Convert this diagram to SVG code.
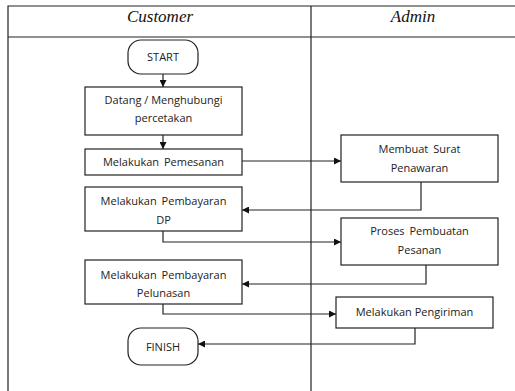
<svg xmlns="http://www.w3.org/2000/svg" width="515" height="391" viewBox="0 0 515 391">
<style>
.box{fill:#fff;stroke:#222;stroke-width:1.2}
.t{font-family:"Open Sans","Noto Sans",sans-serif;font-size:11px;fill:#222;text-anchor:middle}
.h{font-family:"Liberation Serif",serif;font-style:italic;font-size:17px;fill:#111;text-anchor:middle}
.ln{fill:none;stroke:#222;stroke-width:1.2}
.frame{fill:none;stroke:#222;stroke-width:1.2}
</style>
<defs>
<marker id="ar" viewBox="0 0 10 10" refX="10" refY="5" markerWidth="7" markerHeight="7" markerUnits="userSpaceOnUse" orient="auto">
<path d="M0,0 L10,5 L0,10 z" fill="#111"/>
</marker>
</defs>
<g id="lanes">
<path class="frame" d="M8,391 V6 H515 M8,37 H515 M311,6 V391"/>
<text class="h" x="160" y="22">Customer</text>
<text class="h" x="413" y="22">Admin</text>
</g>
<g id="connectors">
<path class="ln" d="M163,74 V87" marker-end="url(#ar)"/>
<path class="ln" d="M163,135 V149" marker-end="url(#ar)"/>
<path class="ln" d="M242,161 H341" marker-end="url(#ar)"/>
<path class="ln" d="M421,182 V210 H242" marker-end="url(#ar)"/>
<path class="ln" d="M163,231 V242 H341" marker-end="url(#ar)"/>
<path class="ln" d="M426,265 V284 H242" marker-end="url(#ar)"/>
<path class="ln" d="M163,304 V314 H336" marker-end="url(#ar)"/>
<path class="ln" d="M415,328 V344 H198" marker-end="url(#ar)"/>
</g>
<g id="start">
<rect class="box" x="128" y="40" width="70" height="34" rx="13"/>
<text class="t" x="163" y="61">START</text>
</g>
<g id="datang">
<rect class="box" x="85" y="87" width="157" height="48"/>
<text class="t" x="163.5" y="104">Datang / Menghubungi</text>
<text class="t" x="163.5" y="122">percetakan</text>
</g>
<g id="pemesanan">
<rect class="box" x="85" y="149" width="157" height="26"/>
<text class="t" x="163.5" y="166" word-spacing="2">Melakukan Pemesanan</text>
</g>
<g id="penawaran">
<rect class="box" x="341" y="135" width="157" height="47"/>
<text class="t" x="419.5" y="153" word-spacing="2">Membuat Surat</text>
<text class="t" x="419.5" y="172">Penawaran</text>
</g>
<g id="dp">
<rect class="box" x="85" y="187" width="157" height="44"/>
<text class="t" x="163.5" y="205" word-spacing="2">Melakukan Pembayaran</text>
<text class="t" x="163.5" y="224">DP</text>
</g>
<g id="pembuatan">
<rect class="box" x="341" y="218" width="157" height="47"/>
<text class="t" x="419.5" y="235" word-spacing="2">Proses Pembuatan</text>
<text class="t" x="419.5" y="254">Pesanan</text>
</g>
<g id="pelunasan">
<rect class="box" x="85" y="260" width="157" height="44"/>
<text class="t" x="163.5" y="279" word-spacing="2">Melakukan Pembayaran</text>
<text class="t" x="163.5" y="297">Pelunasan</text>
</g>
<g id="pengiriman">
<rect class="box" x="336" y="297" width="157" height="31"/>
<text class="t" x="414.5" y="316">Melakukan Pengiriman</text>
</g>
<g id="finish">
<rect class="box" x="128" y="328" width="70" height="37" rx="13"/>
<text class="t" x="163" y="351">FINISH</text>
</g>
</svg>
